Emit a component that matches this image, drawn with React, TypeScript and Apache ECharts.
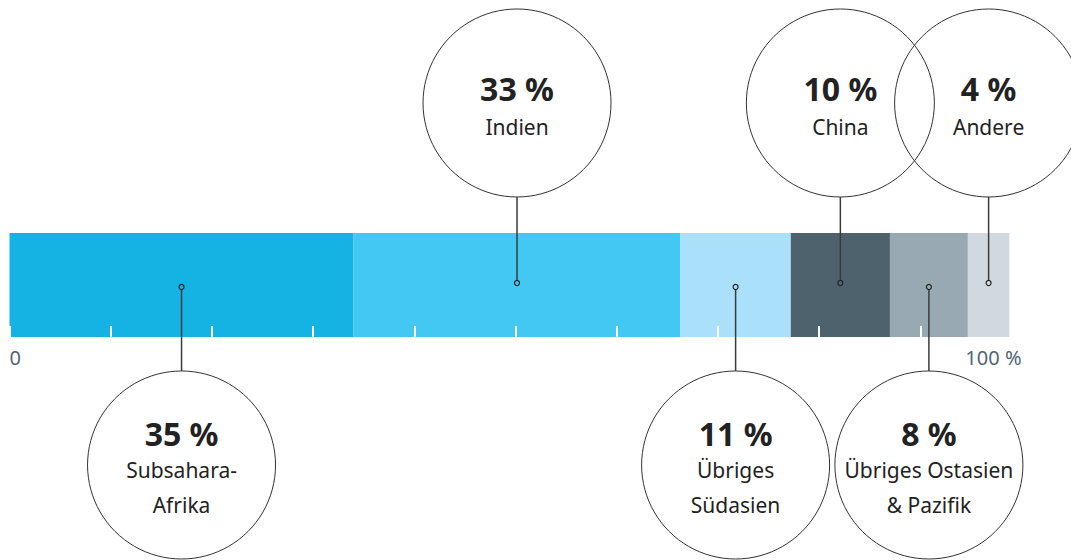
import React, { useEffect, useRef } from "react";
import * as echarts from "echarts";

const categories = [
  "Subsahara-\nAfrika",
  "Indien",
  "Übriges\nSüdasien",
  "China",
  "Übriges Ostasien\n& Pazifik",
  "Andere",
];
const shares = [34.0, 32.3, 10.9, 9.8, 7.7, 4.1];
const percentLabels = ["35 %", "33 %", "11 %", "10 %", "8 %", "4 %"];
const colors = ["#14b3e3", "#42c8f2", "#aae0f9", "#4d626d", "#98a9b3", "#d1d9e0"];
const calloutUp = [false, true, false, true, false, true];
const axisMin = 0;
const axisMax = 100;
const tickInterval = 10;

const FONT = "'Noto Sans', 'Open Sans', sans-serif";

export default function App() {
  const ref = useRef<HTMLDivElement>(null);
  useEffect(() => {
    if (!ref.current) return;
    const chart = echarts.init(ref.current, undefined, { renderer: "svg" });
    let acc = 0;
    const mids: number[][] = shares.map((s, i) => {
      const m = acc + s / 2;
      acc += s;
      return [m, 0, i];
    });
    const barSeries = shares.map((s, i) => ({
      type: "bar",
      name: categories[i],
      stack: "total",
      data: [s],
      barWidth: "100%",
      itemStyle: { color: colors[i] },
      silent: true,
      z: 2,
    }));
    const custom = {
      type: "custom",
      data: mids,
      encode: { x: 0, y: 1 },
      clip: false,
      z: 5,
      renderItem: (params: any, api: any) => {
        const i = api.value(2);
        const p = api.coord([api.value(0), api.value(1)]);
        const up = calloutUp[i];
        const r = 94;
        const dotY = up ? p[1] - 2 : p[1] + 2;
        const cy = up ? p[1] - 182 : p[1] + 180;
        const cx = p[0];
        const stroke = "#333";
        const children: any[] = [
          {
            type: "line",
            shape: {
              x1: cx,
              y1: up ? dotY - 2.5 : dotY + 2.5,
              x2: cx,
              y2: up ? cy + r : cy - r,
            },
            style: { stroke: "#3a3a3a", lineWidth: 1.5 },
          },
          {
            type: "circle",
            shape: { cx, cy: dotY, r: 2.5 },
            style: { stroke: "#222", lineWidth: 1.2, fill: "none" },
          },
          {
            type: "circle",
            shape: { cx, cy, r },
            style: { stroke, lineWidth: 1, fill: "none" },
          },
        ];
        const lines = categories[i].split("\n");
        const pctStyle = {
          align: "center",
          verticalAlign: "middle",
          fontSize: 32,
          fontWeight: "bold",
          fontFamily: FONT,
          fill: "#222",
        };
        const lblStyle = {
          align: "center",
          verticalAlign: "middle",
          fontSize: 21,
          fontFamily: FONT,
          fill: "#222",
        };
        if (lines.length === 1) {
          children.push({
            type: "text",
            style: { ...pctStyle, text: percentLabels[i], x: cx, y: cy - 15 },
          });
          children.push({
            type: "text",
            style: { ...lblStyle, text: lines[0], x: cx, y: cy + 24 },
          });
        } else {
          children.push({
            type: "text",
            style: { ...pctStyle, text: percentLabels[i], x: cx, y: cy - 32 },
          });
          lines.forEach((ln, k) => {
            children.push({
              type: "text",
              style: { ...lblStyle, text: ln, x: cx, y: cy + 5 + k * 35 },
            });
          });
        }
        return { type: "group", children };
      },
    };
    chart.setOption({
      animation: false,
      grid: { left: 9.5, top: 233, width: 1012, height: 104 },
      xAxis: {
        type: "value",
        min: axisMin,
        max: axisMax,
        interval: tickInterval,
        z: 10,
        splitLine: { show: false },
        axisLine: { show: false },
        axisTick: { show: true, inside: true, length: 11, lineStyle: { color: "#ffffff", width: 2 } },
        axisLabel: {
          show: true,
          margin: 10,
          fontSize: 20,
          fontFamily: FONT,
          color: "#4f6672",
          alignMinLabel: "left",
          alignMaxLabel: "right",
          formatter: (v: number) => (v === axisMin ? "0" : v === axisMax ? "100 %" : ""),
        },
      },
      yAxis: {
        type: "category",
        data: ["Anteil"],
        show: false,
      },
      series: [...barSeries, custom],
    });
    return () => chart.dispose();
  }, []);
  return (
    <div
      ref={ref}
      style={{ position: "fixed", left: 0, top: 0, width: 1071, height: 560, background: "#fff" }}
    />
  );
}
